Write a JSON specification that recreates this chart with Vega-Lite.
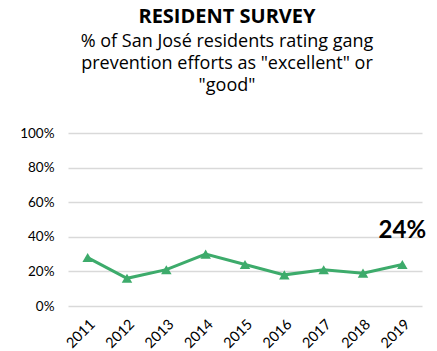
{
  "$schema": "https://vega.github.io/schema/vega-lite/v6.json",
  "autosize": {"type": "none"},
  "width": 354,
  "height": 173,
  "padding": {"left": 68, "top": 133, "right": 15, "bottom": 45},
  "background": "white",
  "title": {
    "text": "RESIDENT SURVEY",
    "subtitle": ["% of San José residents rating gang", "prevention efforts as \"excellent\" or", "\"good\""],
    "anchor": "middle",
    "frame": "group",
    "dx": -18,
    "font": "Open Sans",
    "fontSize": 20,
    "fontWeight": "bold",
    "color": "#000000",
    "subtitleFont": "Open Sans",
    "subtitleFontSize": 18,
    "subtitleColor": "#000000",
    "subtitleLineHeight": 22,
    "subtitlePadding": 6,
    "offset": 31
  },
  "data": {
    "values": [
      {"year": "2011", "pct": 28},
      {"year": "2012", "pct": 16},
      {"year": "2013", "pct": 21},
      {"year": "2014", "pct": 30},
      {"year": "2015", "pct": 24},
      {"year": "2016", "pct": 18},
      {"year": "2017", "pct": 21},
      {"year": "2018", "pct": 19},
      {"year": "2019", "pct": 24}
    ]
  },
  "encoding": {
    "x": {
      "field": "year", "type": "ordinal",
      "scale": {"type": "point", "padding": 0.5},
      "axis": {"title": null, "labelAngle": -45, "domain": false, "ticks": false, "labelFont": "Lato", "labelFontSize": 14.5, "labelColor": "#000000", "labelPadding": 11}
    },
    "y": {
      "field": "pct", "type": "quantitative",
      "scale": {"domain": [0, 100]},
      "axis": {"title": null, "values": [0, 20, 40, 60, 80, 100], "labelExpr": "datum.value + '%'", "domain": false, "ticks": false, "grid": true, "gridColor": "#d9d9d9", "gridWidth": 1.5, "labelFont": "Lato", "labelFontSize": 13.5, "labelColor": "#000000", "labelPadding": 14}
    }
  },
  "layer": [
    {"mark": {"type": "line", "color": "#3dab6b", "strokeWidth": 3}},
    {"mark": {"type": "point", "shape": "triangle-up", "filled": true, "color": "#3dab6b", "size": 110, "opacity": 1}},
    {
      "transform": [{"filter": "datum.year == '2019'"}],
      "mark": {"type": "text", "font": "Lato", "fontSize": 24, "fontWeight": "bold", "color": "#000000", "dy": -33, "dx": 0, "align": "center", "baseline": "middle"},
      "encoding": {"text": {"value": "24%"}}
    }
  ],
  "config": {"view": {"stroke": null}}
}
